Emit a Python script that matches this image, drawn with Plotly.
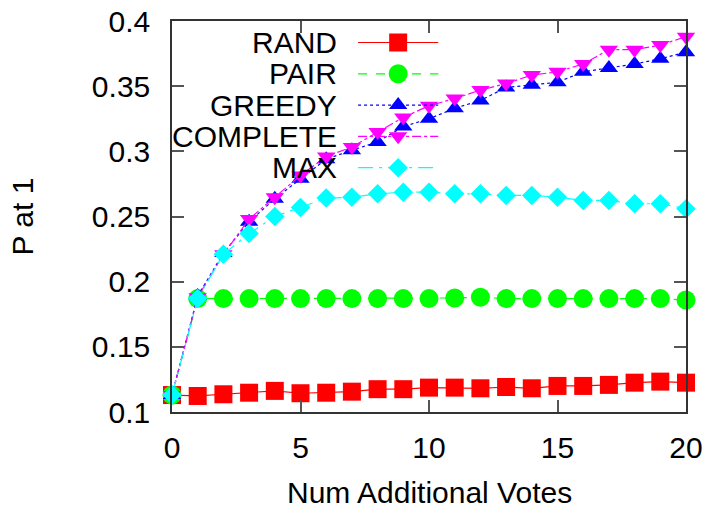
import plotly.graph_objects as go

# Number of additional votes (x axis)
votes = list(range(21))

# P at 1 for each strategy
rand = [0.113, 0.1123, 0.1136, 0.1148, 0.1162, 0.1144, 0.1148, 0.1156, 0.1175, 0.1175, 0.1187,
        0.1187, 0.1182, 0.1192, 0.1182, 0.1200, 0.1200, 0.1208, 0.1225, 0.1233, 0.1225]
pair = [0.113, 0.187, 0.187, 0.187, 0.187, 0.187, 0.187, 0.187, 0.187, 0.187, 0.187,
        0.1875, 0.188, 0.187, 0.187, 0.187, 0.187, 0.187, 0.187, 0.187, 0.186]
greedy = [0.113, 0.189, 0.222, 0.246, 0.2636, 0.279, 0.294, 0.3008, 0.3072, 0.319, 0.325,
          0.333, 0.339, 0.349, 0.351, 0.353, 0.361, 0.364, 0.367, 0.371, 0.376]
complete = [0.113, 0.188, 0.221, 0.248, 0.2648, 0.2815, 0.296, 0.3033, 0.3148, 0.326, 0.335,
            0.3405, 0.347, 0.352, 0.3585, 0.361, 0.367, 0.378, 0.378, 0.3815, 0.388]
maxv = [0.113, 0.187, 0.221, 0.237, 0.250, 0.257, 0.2641, 0.2648, 0.2674, 0.2687, 0.2687,
        0.2674, 0.2674, 0.2662, 0.2662, 0.2648, 0.2623, 0.2623, 0.2598, 0.2598, 0.256]

names = ["RAND", "PAIR", "GREEDY", "COMPLETE", "MAX"]
series = [rand, pair, greedy, complete, maxv]

y_ticks = [0.1, 0.15, 0.2, 0.25, 0.3, 0.35, 0.4]
y_tick_text = ["0.1", "0.15", "0.2", "0.25", "0.3", "0.35", "0.4"]
x_ticks = [0, 5, 10, 15, 20]

styles = [
    dict(color="#ff0000", dash="solid", symbol="square", size=18),
    dict(color="#00ff00", dash="dash", symbol="circle", size=19),
    dict(color="#0000ff", dash="dot", symbol="triangle-up", size=16),
    dict(color="#ff00ff", dash="dashdot", symbol="triangle-down", size=16),
    dict(color="#00ffff", dash="longdashdot", symbol="diamond", size=15),
]

FONT = "Liberation Sans, Arial, Helvetica, sans-serif"
fig = go.Figure()

for name, ys, st in zip(names, series, styles):
    fig.add_trace(go.Scatter(
        x=votes, y=ys, name=name, mode="lines+markers",
        line=dict(color=st["color"], width=1.2, dash=st["dash"]),
        marker=dict(symbol=st["symbol"], size=st["size"], color=st["color"],
                    line=dict(width=0)),
        cliponaxis=False, showlegend=False,
    ))

# Key: label on the left, sample line with marker on the right
row_y = [0.945, 0.865, 0.785, 0.705, 0.625]
for name, st, ry in zip(names, styles, row_y):
    fig.add_trace(go.Scatter(
        x=[0.362, 0.518], y=[ry, ry], mode="lines", xaxis="x2", yaxis="y2",
        line=dict(color=st["color"], width=1.2, dash=st["dash"]),
        hoverinfo="skip", showlegend=False, cliponaxis=False,
    ))
    fig.add_trace(go.Scatter(
        x=[0.44], y=[ry], mode="markers", xaxis="x2", yaxis="y2",
        marker=dict(symbol=st["symbol"], size=st["size"], color=st["color"],
                    line=dict(width=0)),
        hoverinfo="skip", showlegend=False, cliponaxis=False,
    ))
    fig.add_annotation(
        x=0.325, y=ry, xref="paper", yref="paper", text=name, showarrow=False,
        xanchor="right", yanchor="middle", font=dict(family=FONT, size=30, color="#000"),
    )

axis_common = dict(
    showline=True, linecolor="#333", linewidth=1.5, mirror="ticks",
    ticks="inside", ticklen=12, tickwidth=1.5, tickcolor="#555",
    showgrid=False, zeroline=False, automargin=False,
    tickfont=dict(family=FONT, size=30, color="#000"),
)

fig.update_layout(
    width=710, height=509,
    margin=dict(l=172, r=24, t=21, b=97),
    paper_bgcolor="white", plot_bgcolor="white",
    xaxis=dict(range=[0, 20], tickvals=x_ticks, ticklabelstandoff=8, **axis_common),
    yaxis=dict(range=[0.1, 0.4], tickvals=y_ticks, ticktext=y_tick_text,
               ticklabelstandoff=14, **axis_common),
    xaxis2=dict(overlaying="x", range=[0, 1], visible=False),
    yaxis2=dict(overlaying="y", range=[0, 1], visible=False),
    showlegend=False,
)

fig.add_annotation(
    x=0.5, y=-0.207, xref="paper", yref="paper", text="Num Additional Votes",
    showarrow=False, xanchor="center", yanchor="middle",
    font=dict(family=FONT, size=30, color="#000"),
)
fig.add_annotation(
    x=-0.29, y=0.5, xref="paper", yref="paper", text="P at 1", textangle=-90,
    showarrow=False, xanchor="center", yanchor="middle",
    font=dict(family=FONT, size=30, color="#000"),
)

fig.write_html("out.html")
